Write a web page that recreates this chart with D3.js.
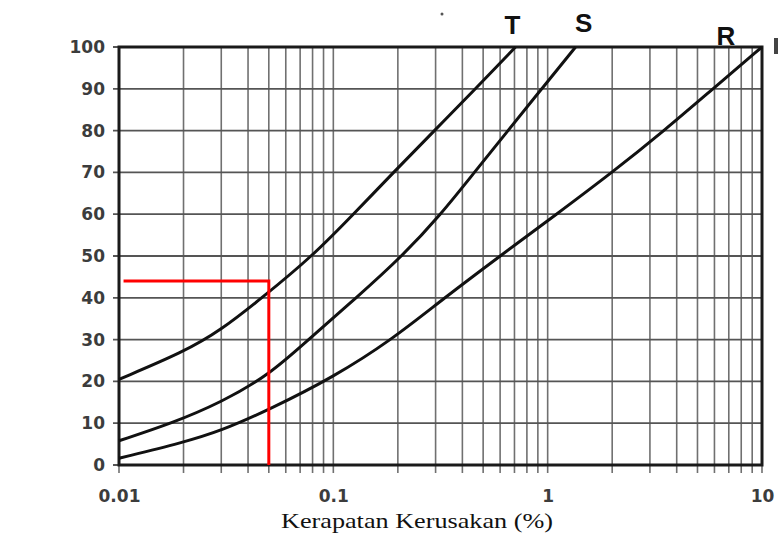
<!DOCTYPE html>
<html>
<head>
<meta charset="utf-8">
<script src="https://cdn.jsdelivr.net/npm/d3@7"></script>
<style>
    body { margin: 0; background: #fff; }
    svg { display: block; }
</style>
</head>
<body>
<div id="container"></div>
<script>
const xT = [0.01, 0.02, 0.03, 0.0465, 0.08, 0.124, 0.191, 0.296, 0.461, 0.708]
const yT = [20.5, 27, 32.3, 40, 50, 60, 70, 80, 90, 100]

const xS = [0.01, 0.0177, 0.03, 0.05, 0.0764, 0.128, 0.21, 0.318, 0.455, 0.653, 0.938, 1.35]
const yS = [5.8, 10, 15, 21.5, 30, 40, 50, 60, 70, 80, 90, 100]

const xR = [0.01, 0.02, 0.03, 0.05, 0.1, 0.188, 0.33, 0.6, 1.1, 2, 3.5, 5.9, 10]
const yR = [1.6, 5.4, 8.2, 13.2, 21, 30, 40, 50, 60, 70, 80, 90, 100]

const xTicks = [0.01, 0.1, 1, 10]
const xTickLabels = ["0.01", "0.1", "1", "10"]
const yTicks = [0, 10, 20, 30, 40, 50, 60, 70, 80, 90, 100]

// red reading guide: density 0.05 -> deduct value 44
const guideX = [0.0105, 0.05]
const guideY = [44, 0]

const xLabel = "Kerapatan Kerusakan (%)"

const width = 778, height = 534

const svg = d3.select("div#container")
    .append("svg")
    .attr("width", width)
    .attr("height", height)

const x = d3.scaleLog().domain([0.01, 10]).range([119, 762])
const y = d3.scaleLinear().domain([0, 100]).range([465, 47])

// log grid: 1..9 in every decade
const gridX = []
for (let e = -2; e < 1; e++) {
    for (let k = 1; k < 10; k++) gridX.push(k * Math.pow(10, e))
}
gridX.push(10)

svg.append("g")
    .selectAll("line")
    .data(gridX)
    .enter()
    .append("line")
    .attr("x1", d => x(d))
    .attr("x2", d => x(d))
    .attr("y1", y(100))
    .attr("y2", y(0) + 8)
    .attr("stroke", "#707070")
    .attr("stroke-width", 1.6)

svg.append("g")
    .selectAll("line")
    .data(yTicks)
    .enter()
    .append("line")
    .attr("x1", x(0.01) - 6)
    .attr("x2", x(10))
    .attr("y1", d => y(d))
    .attr("y2", d => y(d))
    .attr("stroke", "#555")
    .attr("stroke-width", 1.8)

// frame
svg.append("rect")
    .attr("x", x(0.01))
    .attr("y", y(100))
    .attr("width", x(10) - x(0.01))
    .attr("height", y(0) - y(100))
    .attr("fill", "none")
    .attr("stroke", "#1a1a1a")
    .attr("stroke-width", 3)

const tickFont = g => g.selectAll("text")
    .style("font-family", "'DejaVu Sans', Arial, sans-serif")
    .style("font-size", "17px")
    .style("font-weight", "bold")
    .style("fill", "#3c3c3c")

const yAxis = d3.axisLeft(y)
    .tickValues(yTicks)
    .tickSize(0)
    .tickPadding(14)

svg.append("g")
    .attr("transform", `translate(${x(0.01)},0)`)
    .call(yAxis)
    .call(g => g.select(".domain").remove())
    .call(tickFont)

const xAxis = d3.axisBottom(x)
    .tickValues(xTicks)
    .tickFormat((d, i) => xTickLabels[i])
    .tickSize(0)
    .tickPadding(25)

svg.append("g")
    .attr("transform", `translate(0,${y(0)})`)
    .call(xAxis)
    .call(g => g.select(".domain").remove())
    .call(tickFont)

const series = [
    { name: "T", xs: xT, ys: yT },
    { name: "S", xs: xS, ys: yS },
    { name: "R", xs: xR, ys: yR }
]

// basis smooths out the small reading errors of the scanned curves
const line = d3.line()
    .x(d => x(d[0]))
    .y(d => y(d[1]))
    .curve(d3.curveBasis)

svg.append("g")
    .selectAll("path")
    .data(series)
    .enter()
    .append("path")
    .attr("d", d => line(d.xs.map((v, i) => [v, d.ys[i]])))
    .attr("fill", "none")
    .attr("stroke", "#111")
    .attr("stroke-width", 3)

svg.append("path")
    .attr("d", d3.line()([
        [x(guideX[0]), y(guideY[0])],
        [x(guideX[1]), y(guideY[0])],
        [x(guideX[1]), y(guideY[1])]
    ]))
    .attr("fill", "none")
    .attr("stroke", "#ff0000")
    .attr("stroke-width", 3)

// curve letters sit above the top end of each curve
const labelDx = { T: -3, S: 8, R: -36 }
const labelDy = { T: -13, S: -15, R: -2 }
svg.append("g")
    .selectAll("text")
    .data(series)
    .enter()
    .append("text")
    .attr("x", d => x(d.xs[d.xs.length - 1]) + labelDx[d.name])
    .attr("y", d => y(d.ys[d.ys.length - 1]) + labelDy[d.name])
    .attr("text-anchor", "middle")
    .style("font-family", "Arial, 'Liberation Sans', sans-serif")
    .style("font-size", "26px")
    .style("font-weight", "bold")
    .style("fill", "#111")
    .text(d => d.name)

// scan leftovers: speck at the top, cut-off mark at the right edge
svg.append("circle")
    .attr("cx", 442)
    .attr("cy", 14)
    .attr("r", 1.5)
    .attr("fill", "#555")

svg.append("rect")
    .attr("x", 774)
    .attr("y", 38)
    .attr("width", 4)
    .attr("height", 16)
    .attr("fill", "#444")

svg.append("text")
    .attr("x", 417)
    .attr("y", 528)
    .attr("text-anchor", "middle")
    .attr("textLength", 272)
    .attr("lengthAdjust", "spacingAndGlyphs")
    .style("font-family", "'Liberation Serif', 'DejaVu Serif', serif")
    .style("font-size", "21px")
    .style("fill", "#111")
    .text(xLabel)
</script>
</body>
</html>
